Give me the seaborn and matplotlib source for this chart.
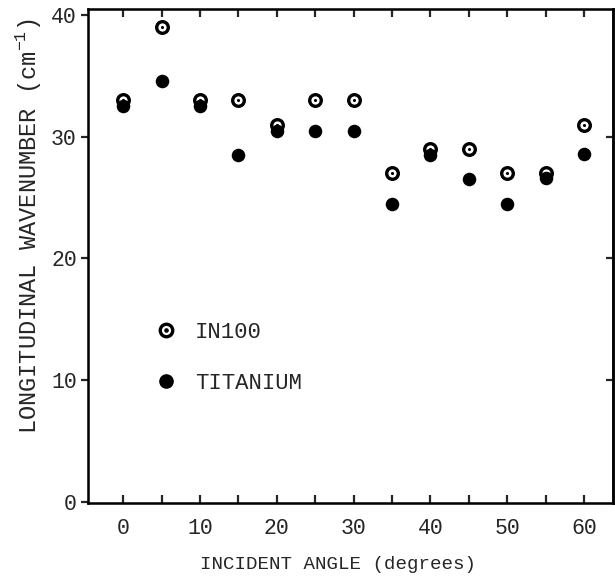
import pandas as pd
import matplotlib.pyplot as plt
import seaborn as sns
from matplotlib.lines import Line2D
from matplotlib.ticker import MultipleLocator

# data
angles = [0, 5, 10, 15, 20, 25, 30, 35, 40, 45, 50, 55, 60]
in100 = [33, 39, 33, 33, 31, 33, 33, 27, 29, 29, 27, 27, 31]
titanium = [32.5, 34.6, 32.5, 28.5, 30.5, 30.5, 30.5, 24.5, 28.5, 26.5, 24.5, 26.6, 28.6]

sns.set_style('ticks')
plt.rcParams['font.family'] = ['Liberation Mono', 'DejaVu Sans Mono']
plt.rcParams['mathtext.fontset'] = 'custom'
plt.rcParams['mathtext.rm'] = 'Liberation Mono'

df = pd.DataFrame({'angle': angles, 'IN100': in100, 'TITANIUM': titanium})

fig = plt.figure(figsize=(6.15, 5.76), dpi=100)
ax = fig.add_axes([0.143, 0.127, 0.854, 0.857])

# IN100: thick ring with a dot in the middle
sns.scatterplot(data=df, x='angle', y='IN100', ax=ax, marker='o', s=70,
                facecolor='white', edgecolor='black', linewidth=2.4, zorder=3)
sns.scatterplot(data=df, x='angle', y='IN100', ax=ax, marker='o', s=5,
                color='black', linewidth=0, zorder=3)
# titanium: filled, drawn over the rings
sns.scatterplot(data=df, x='angle', y='TITANIUM', ax=ax, marker='o', s=95,
                color='black', linewidth=0, zorder=4)

ax.set_xlim(-4.6, 63.8)
ax.set_ylim(-0.1, 40.5)
ax.xaxis.set_major_locator(MultipleLocator(10))
ax.xaxis.set_minor_locator(MultipleLocator(5))
ax.set_yticks([0, 10, 20, 30, 40])

for s in ax.spines.values():
    s.set_linewidth(1.8)
    s.set_color('black')

ax.tick_params(axis='x', which='both', direction='in', top=True, bottom=True,
               length=6, width=1.6, labelsize=15.5, pad=11)
ax.tick_params(axis='y', direction='out', left=True, right=False,
               length=5, width=1.6, labelsize=15.5, pad=3)

ax2 = ax.twinx()
ax2.set_ylim(ax.get_ylim())
ax2.set_yticks([10, 20, 30])
ax2.tick_params(axis='y', direction='in', length=5, width=1.6, labelright=False)
ax2.spines['right'].set_linewidth(1.8)
for s in ax2.spines.values():
    s.set_color('black')

ax.set_xlabel('INCIDENT ANGLE (degrees)', fontsize=13.8, labelpad=12, x=0.477)
ax.set_ylabel(r'LONGITUDINAL WAVENUMBER (cm$^{-1}$)', fontsize=17, labelpad=6, y=0.56)

ring = Line2D([], [], marker='o', ls='none', ms=9, mfc='white', mec='black', mew=2.4)
dot = Line2D([], [], marker='o', ls='none', ms=2.3, color='black')
filled = Line2D([], [], marker='o', ls='none', ms=9.5, color='black')
ax.legend([(ring, dot), filled], ['IN100', 'TITANIUM'], loc='center left',
          bbox_to_anchor=(0.085, 0.294), frameon=False, fontsize=16,
          handlelength=1.2, handletextpad=0.7, labelspacing=1.35)

fig.savefig('out.png', dpi=100)
